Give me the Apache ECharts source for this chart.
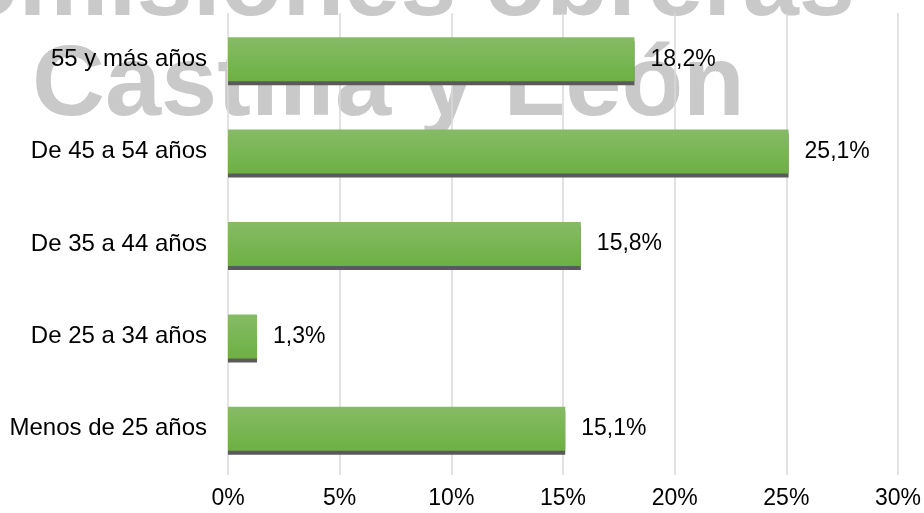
<!DOCTYPE html>
<html>
<head>
<meta charset="utf-8">
<script src="https://cdn.jsdelivr.net/npm/echarts@6/dist/echarts.min.js"></script>
<style>
html,body{margin:0;padding:0;background:#fff;}
#chart{width:924px;height:513px;}
</style>
</head>
<body>
<div id="chart"></div>
<script>
var categories = ['Menos de 25 años', 'De 25 a 34 años', 'De 35 a 44 años', 'De 45 a 54 años', '55 y más años'];
var values = [15.1, 1.3, 15.8, 25.1, 18.2];
var axisMin = 0;
var axisMax = 30;
var axisStep = 5;
var watermarkLines = ['Comisiones obreras', 'Castilla y León'];

var FONT = 'Arial, "Liberation Sans", sans-serif';
var chart = echarts.init(document.getElementById('chart'));
chart.setOption({
  animation: false,
  backgroundColor: '#ffffff',
  graphic: [
    {
      type: 'text', z: -10,
      x: 855, y: -13,
      style: {
        text: watermarkLines[0], fill: '#c9c9c9',
        font: 'bold 101px ' + FONT,
        align: 'right', verticalAlign: 'middle'
      }
    },
    {
      type: 'text', z: -10,
      x: 32, y: 87,
      style: {
        text: watermarkLines[1], fill: '#c9c9c9',
        font: 'bold 101px ' + FONT,
        align: 'left', verticalAlign: 'middle'
      }
    }
  ],
  grid: { left: 228, right: 25, top: 13, bottom: 38, containLabel: false },
  xAxis: {
    type: 'value', min: axisMin, max: axisMax, interval: axisStep,
    axisLine: { show: false }, axisTick: { show: false },
    splitLine: { show: true, lineStyle: { color: '#d9d9d9', width: 1.5 } },
    axisLabel: {
      formatter: function (v) { return v + '%'; },
      fontFamily: FONT, fontSize: 23, color: '#000', margin: 12
    }
  },
  yAxis: {
    type: 'category', data: categories,
    axisLine: { show: false }, axisTick: { show: false },
    axisLabel: { fontFamily: FONT, fontSize: 24, color: '#000', margin: 21 }
  },
  series: [{
    type: 'bar',
    data: values,
    barWidth: '47.6%',
    itemStyle: {
      color: new echarts.graphic.LinearGradient(0, 0, 0, 1, [
        { offset: 0, color: '#86bb66' },
        { offset: 1, color: '#6db043' }
      ]),
      shadowColor: '#5a5a5a', shadowOffsetY: 4, shadowOffsetX: 0, shadowBlur: 0
    },
    label: {
      show: true, position: 'right', distance: 16,
      fontFamily: FONT, fontSize: 23, color: '#000',
      formatter: function (p) { return String(p.value).replace('.', ',') + '%'; }
    }
  }]
});
</script>
</body>
</html>
